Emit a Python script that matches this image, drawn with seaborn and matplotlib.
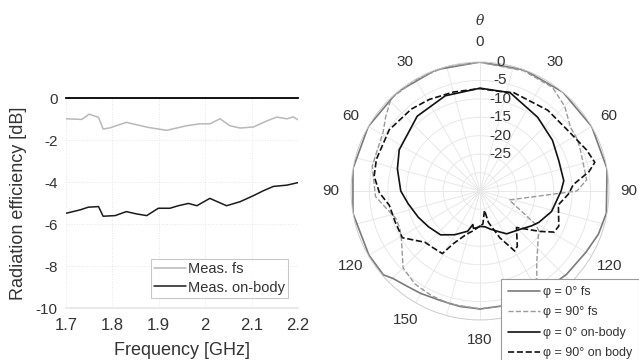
import numpy as np
import pandas as pd
import matplotlib
matplotlib.use("Agg")
import matplotlib.pyplot as plt
import seaborn as sns

# ---------------- data: left panel ----------------
freq_fs = [1.70, 1.734, 1.75, 1.77, 1.78, 1.795, 1.83, 1.877, 1.917, 1.96, 1.989,
           2.01, 2.032, 2.053, 2.075, 2.104, 2.132, 2.154, 2.176, 2.19, 2.20]
eff_fs = [-0.99, -1.02, -0.77, -0.92, -1.48, -1.42, -1.16, -1.40, -1.54, -1.32, -1.23,
          -1.23, -0.99, -1.32, -1.43, -1.38, -1.10, -0.91, -0.99, -0.90, -1.04]
freq_body = [1.70, 1.73, 1.748, 1.77, 1.78, 1.806, 1.83, 1.852, 1.874, 1.899, 1.924,
             1.942, 1.964, 1.982, 2.01, 2.046, 2.075, 2.104, 2.125, 2.147, 2.176, 2.20]
eff_body = [-5.49, -5.33, -5.20, -5.17, -5.63, -5.60, -5.41, -5.52, -5.60, -5.25, -5.25,
            -5.13, -5.02, -5.13, -4.78, -5.13, -4.94, -4.65, -4.42, -4.21, -4.15, -4.03]
left_labels = ["Meas. fs", "Meas. on-body"]
xticks_left = [1.7, 1.8, 1.9, 2.0, 2.1, 2.2]
xticklabels_left = ["1.7", "1.8", "1.9", "2", "2.1", "2.2"]
yticks_left = [0, -2, -4, -6, -8, -10]

# ---------------- data: polar panel (theta in degrees, gain in dB) ----------------
th_fs0 = [-180, -170, -160, -150, -142, -135, -131, -120, -100, -80, -60, -40, -20, 0,
          20, 40, 60, 80, 100, 110, 120, 134, 150, 165, 180]
db_fs0 = [-3.0, -3.2, -3.4, -2.9, -2.4, -1.5, -0.3, -0.2, 0.0, 0.0, 0.0, 0.0, 0.0, 0.0,
          0.0, 0.0, 0.0, 0.0, -0.2, -0.8, -1.8, -2.4, -2.8, -3.0, -3.0]

th_fs90 = [-180, -165, -155, -145, -135, -121, -115, -108, -100, -93, -77, -68, -59, -52,
           -44, -30, -15, 0, 20, 35, 45, 55, 62, 68, 84, 90, 107, 121, 124, 135, 142,
           147, 160, 170, 180]
db_fs90 = [-3.0, -3.3, -3.7, -4.2, -5.5, -10.1, -11.0, -11.0, -9.0, -6.6, -5.0, -5.0, -4.3,
           -2.5, -0.2, -0.1, 0.0, -0.1, -0.3, -0.7, -2.5, -5.0, -5.1, -5.6, -5.9, -8.7,
           -26.7, -17.3, -15.8, -12.9, -10.0, -6.7, -4.5, -3.3, -3.0]

th_body0 = [-180, -175, -170, -168, -163, -150, -138, -125, -113, -100, -90, -75, -63,
            -40, -20, 0, 17, 38, 55, 69, 83, 90, 106, 118, 124, 134, 148, 155, 165, 172, 180]
db_body0 = [-25.4, -25.0, -24.7, -25.7, -23.6, -21.3, -19.0, -18.0, -16.8, -15.2, -13.5,
            -11.8, -10.4, -8.5, -7.5, -7.1, -7.1, -9.6, -11.0, -12.1, -12.1, -13.0, -14.8,
            -16.9, -18.1, -20.0, -21.3, -22.8, -24.3, -25.2, -25.4]

th_body90 = [-180, -170, -163, -153, -149, -140, -133, -121, -110, -99, -91, -82, -73,
             -56, -40, -29, -15, 0, 13, 19, 40, 57, 69, 76, 80, 86, 92, 100, 114, 119,
             124, 135, 146, 150, 153, 157, 165, 167, 175, 180]
db_body90 = [-25.5, -24.0, -22.8, -18.9, -15.2, -15.0, -14.6, -10.4, -10.5, -10.1, -7.7,
             -6.0, -5.6, -5.3, -6.0, -6.6, -7.2, -7.2, -7.4, -6.8, -6.4, -5.9, -4.0, -2.9,
             -5.0, -9.6, -11.0, -13.4, -11.6, -12.0, -15.4, -21.0, -16.9, -16.2, -18.8,
             -21.2, -26.2, -29.6, -26.0, -25.5]

polar_labels = ["\u03c6 = 0\u00b0 fs", "\u03c6 = 90\u00b0 fs",
                "\u03c6 = 0\u00b0 on-body", "\u03c6 = 90\u00b0 on body"]
# the right-hand 150 label sits behind the legend in the reference
theta_tick_deg = [0, 30, 60, 90, 120, 180, 210, 240, 270, 300, 330]
theta_tick_labels = ["0", "30", "60", "90", "120", "180", "150", "120", "90", "60", "30"]
r_ticks = [-30, -25, -20, -15, -10, -5, 0]
r_labels = ["-25", "-20", "-15", "-10", "-5", "0"]
r_label_vals = [-25, -20, -15, -10, -5, 0]

# ---------------- style ----------------
sns.set_theme(style="white")
plt.rcParams["font.family"] = ["Liberation Sans", "DejaVu Sans"]
plt.rcParams["axes.unicode_minus"] = False

fig = plt.figure(figsize=(6.39, 3.60), dpi=100)

# ---------------- left panel ----------------
ax1 = fig.add_axes([66 / 639, 1 - 308 / 360, 232 / 639, 210 / 360])
df_fs = pd.DataFrame({"f": freq_fs, "e": eff_fs})
df_body = pd.DataFrame({"f": freq_body, "e": eff_body})
sns.lineplot(data=df_fs, x="f", y="e", ax=ax1, color="#b8b8b8", lw=1.1,
             label=left_labels[0], sort=False)
sns.lineplot(data=df_body, x="f", y="e", ax=ax1, color="#1a1a1a", lw=1.1,
             label=left_labels[1], sort=False)
ax1.set_xlim(1.7, 2.2)
ax1.set_ylim(-10, 0)
ax1.set_xticks(xticks_left)
ax1.set_xticklabels(xticklabels_left)
ax1.set_yticks(yticks_left)
ax1.set_yticklabels([str(v) for v in yticks_left])
ax1.grid(True, color="#e6e6e6", lw=0.7, ls=":")
for s in ["left", "right"]:
    ax1.spines[s].set_visible(False)
ax1.spines["top"].set_color("black")
ax1.spines["top"].set_linewidth(1.3)
ax1.spines["bottom"].set_color("#e6e6e6")
ax1.tick_params(axis="x", labelsize=12, colors="#333333", length=0, pad=7)
ax1.tick_params(axis="y", labelsize=11, colors="#333333", length=0, pad=6)
ax1.set_xlabel("Frequency [GHz]", fontsize=13, color="#333333", labelpad=7)
ax1.set_ylabel("Radiation efficiency [dB]", fontsize=13, color="#333333", labelpad=6)
leg1 = ax1.legend(loc="lower right", bbox_to_anchor=(0.955, 0.05), fontsize=10.5,
                  handlelength=2.2, handletextpad=0.1, labelspacing=0.3,
                  borderpad=0.2, borderaxespad=0, frameon=True, fancybox=False)
leg1.get_frame().set_edgecolor("#bbbbbb")
leg1.get_frame().set_linewidth(0.8)
for t in leg1.get_texts():
    t.set_color("#333333")

# ---------------- polar panel ----------------
R = 129
cx, cy = 480, 191
ax2 = fig.add_axes([(cx - R) / 639, 1 - (cy + R) / 360, 2 * R / 639, 2 * R / 360],
                   projection="polar")
ax2.set_theta_zero_location("N")
ax2.set_theta_direction(-1)
ax2.set_ylim(-35, 0)

series = [
    (th_fs0, db_fs0, "#7a7a7a", "-", 1.2),
    (th_fs90, db_fs90, "#9a9a9a", "--", 1.0),
    (th_body0, db_body0, "#111111", "-", 1.2),
    (th_body90, db_body90, "#111111", "--", 1.2),
]
for (th, db, col, ls, lw), lab in zip(series, polar_labels):
    sns.lineplot(x=np.deg2rad(th), y=db, ax=ax2, color=col, linestyle=ls, lw=lw,
                 sort=False, label=lab)

ax2.set_rticks(r_ticks)
ax2.set_yticklabels([])
ax2.set_xticks(np.deg2rad(np.arange(0, 360, 15)))
lab_map = dict(zip(theta_tick_deg, theta_tick_labels))
ax2.set_xticklabels([lab_map.get(d, "") for d in range(0, 360, 15)])
ax2.tick_params(axis="x", labelsize=11, colors="#333333", pad=1.5)
ax2.grid(True, color="#e8e8e8", lw=0.7)
ax2.spines["polar"].set_color("#c8c8c8")
ax2.spines["polar"].set_linewidth(0.6)
ax2.set_xlabel("")
ax2.set_ylabel("")
for v, s in zip(r_label_vals, r_labels):
    ax2.annotate(s, xy=(0, v), xytext=(14.5, 0), textcoords="offset points",
                 ha="center", va="center", fontsize=11, color="#333333")

fig.text(cx / 639, 1 - 21 / 360, "\u03b8", ha="center", va="center", fontsize=10,
         style="italic", family="DejaVu Serif", color="#333333")

leg2 = ax2.legend(loc="upper left", bbox_to_anchor=(501 / 639, 1 - 279 / 360),
                  bbox_transform=fig.transFigure, fontsize=9, handlelength=2.6,
                  handletextpad=0.2, labelspacing=0.68, borderpad=0.55,
                  borderaxespad=0, frameon=True, fancybox=False)
leg2.get_frame().set_edgecolor("#999999")
leg2.get_frame().set_linewidth(0.8)
leg2.get_frame().set_alpha(1)
for t in leg2.get_texts():
    t.set_color("#333333")

fig.savefig("out.png", dpi=100)
